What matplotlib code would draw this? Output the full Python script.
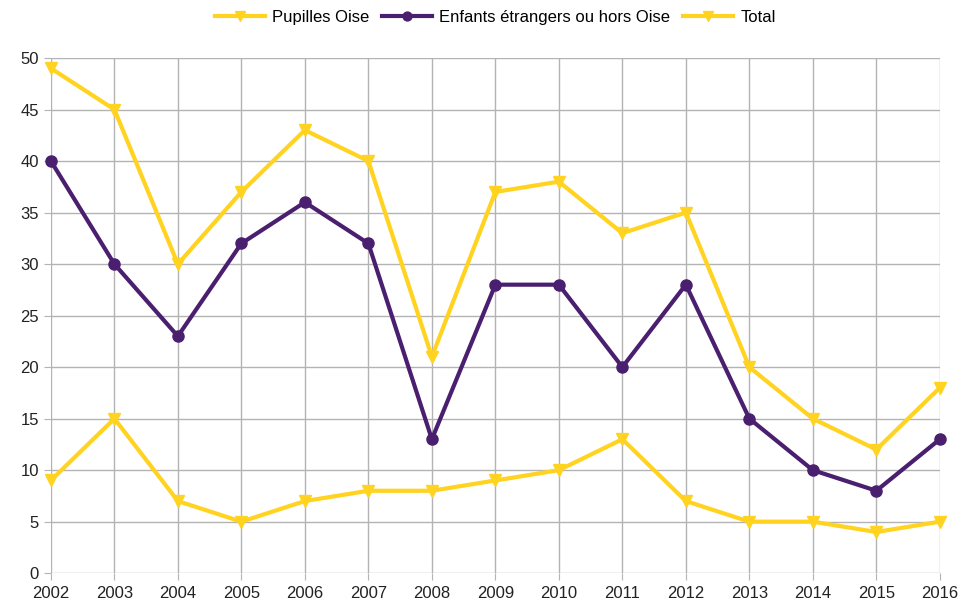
import matplotlib
matplotlib.use("Agg")
import matplotlib.pyplot as plt

years = [2002, 2003, 2004, 2005, 2006, 2007, 2008, 2009, 2010, 2011, 2012, 2013, 2014, 2015, 2016]
pupilles = [9, 15, 7, 5, 7, 8, 8, 9, 10, 13, 7, 5, 5, 4, 5]
enfants = [40, 30, 23, 32, 36, 32, 13, 28, 28, 20, 28, 15, 10, 8, 13]
total = [49, 45, 30, 37, 43, 40, 21, 37, 38, 33, 35, 20, 15, 12, 18]

yellow = "#ffd320"
purple = "#4b1f6f"

plt.rcParams["font.family"] = ["Liberation Sans", "DejaVu Sans"]

fig = plt.figure(figsize=(9.6, 6.04), dpi=100)
ax = fig.add_axes([0.053, 0.051, 0.926, 0.853])

ax.plot(years, pupilles, color=yellow, lw=3, marker="v", ms=9, label="Pupilles Oise", clip_on=False)
ax.plot(years, enfants, color=purple, lw=3, marker="o", ms=8, label="Enfants étrangers ou hors Oise", clip_on=False)
ax.plot(years, total, color=yellow, lw=3, marker="v", ms=9, label="Total", clip_on=False)

ax.set_xlim(2002, 2016)
ax.set_ylim(0, 50)
ax.set_xticks(years)
ax.set_yticks(range(0, 51, 5))
ax.grid(True, color="#b3b3b3", lw=1)
ax.set_axisbelow(True)
for s in ax.spines.values():
    s.set_visible(False)
ax.tick_params(axis="both", colors="#b3b3b3", labelcolor="#222222", labelsize=12, length=5)
ax.tick_params(axis="x", pad=4)

ax.legend(loc="lower center", bbox_to_anchor=(0.5, 1.035), ncol=3, frameon=False,
          fontsize=12, handlelength=3, columnspacing=0.8, handletextpad=0.4, markerscale=0.8)

fig.savefig("out.png", dpi=100)
